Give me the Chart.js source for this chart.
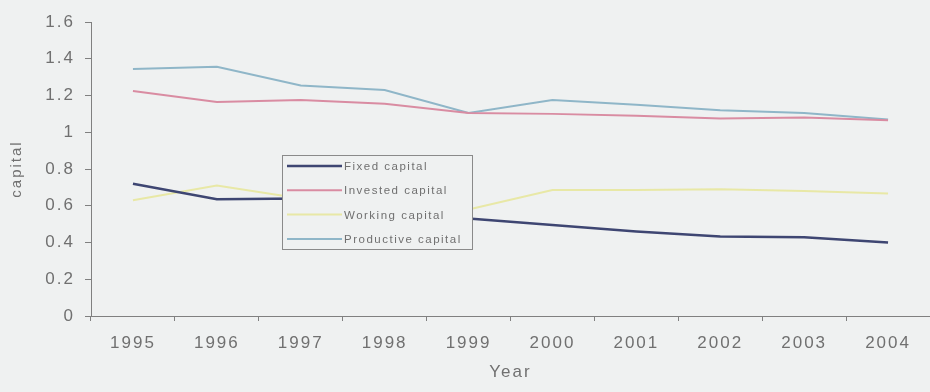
<!DOCTYPE html>
<html>
<head>
<meta charset="utf-8">
<script src="https://cdn.jsdelivr.net/npm/chart.js"></script>
<style>
    html, body { margin: 0; padding: 0; background: #eff1f1; }
    #wrap { width: 930px; height: 392px; position: relative; }
</style>
</head>
<body>
<div id="wrap"><canvas id="capitalChart"></canvas></div>
<script>
// Series data
const years = ['1995', '1996', '1997', '1998', '1999', '2000', '2001', '2002', '2003', '2004'];
const fixedCapital = [0.72, 0.635, 0.64, 0.58, 0.53, 0.495, 0.46, 0.432, 0.428, 0.40];
const investedCapital = [1.225, 1.165, 1.175, 1.155, 1.105, 1.10, 1.09, 1.075, 1.08, 1.065];
const workingCapital = [0.63, 0.71, 0.64, 0.57, 0.58, 0.686, 0.686, 0.69, 0.68, 0.667];
const productiveCapital = [1.344, 1.357, 1.255, 1.23, 1.105, 1.175, 1.15, 1.12, 1.105, 1.07];
const yTicks = [0, 0.2, 0.4, 0.6, 0.8, 1, 1.2, 1.4, 1.6];

const textColor = '#707070';
const axisColor = '#808080';

// boxed legend sitting inside the plot
const insideLegend = {
    id: 'insideLegend',
    afterDatasetsDraw(chart) {
        const c = chart.ctx;
        const box = { x: 282, y: 155, w: 190, h: 94 };
        c.save();
        c.fillStyle = '#eff1f1';
        c.fillRect(box.x, box.y, box.w, box.h);
        c.strokeStyle = '#8a8a8a';
        c.lineWidth = 1;
        c.strokeRect(box.x + 0.5, box.y + 0.5, box.w, box.h);
        c.font = '11.5px "Liberation Sans", Arial, sans-serif';
        c.letterSpacing = '1.5px';
        c.textBaseline = 'middle';
        chart.data.datasets.forEach((ds, i) => {
            const y = box.y + 11 + i * 24.3;
            c.strokeStyle = ds.borderColor;
            c.lineWidth = ds.borderWidth;
            c.beginPath();
            c.moveTo(box.x + 5, y);
            c.lineTo(box.x + 60, y);
            c.stroke();
            c.fillStyle = textColor;
            c.fillText(ds.label, box.x + 62, y + 1);
        });
        c.restore();
    }
};

// wider tracking for axis text
const tracking = {
    id: 'tracking',
    beforeLayout(chart) { chart.ctx.letterSpacing = '2px'; },
    beforeDraw(chart) { chart.ctx.letterSpacing = '2px'; }
};

new Chart(document.getElementById('capitalChart'), {
    type: 'line',
    data: {
        labels: years,
        datasets: [
            { label: 'Fixed capital', data: fixedCapital, borderColor: '#3e4672', borderWidth: 2.5 },
            { label: 'Invested capital', data: investedCapital, borderColor: '#d98ca2', borderWidth: 2 },
            { label: 'Working capital', data: workingCapital, borderColor: '#e8e8a6', borderWidth: 2 },
            { label: 'Productive capital', data: productiveCapital, borderColor: '#8fb6c8', borderWidth: 2 }
        ].map(d => Object.assign(d, { pointRadius: 0, tension: 0, fill: false }))
    },
    options: {
        responsive: true,
        maintainAspectRatio: false,
        animation: false,
        events: [],
        layout: { padding: { top: 22, right: 0, bottom: 5, left: 0 } },
        plugins: { legend: { display: false }, tooltip: { enabled: false } },
        scales: {
            x: {
                offset: true,
                grid: { offset: true, drawOnChartArea: false, tickLength: 5, color: axisColor },
                border: { color: axisColor, width: 1 },
                ticks: { color: textColor, padding: 12, maxRotation: 0, font: { family: '"Liberation Sans", Arial', size: 17 } },
                title: { display: true, text: 'Year', color: textColor, padding: { top: 2, bottom: 4 },
                         font: { family: '"Liberation Sans", Arial', size: 17 } },
                afterFit(scale) { scale.height = 71; }
            },
            y: {
                min: 0,
                max: 1.6,
                afterBuildTicks(scale) { scale.ticks = yTicks.map(v => ({ value: v })); },
                grid: { drawOnChartArea: false, tickLength: 6, color: axisColor },
                border: { color: axisColor, width: 1 },
                ticks: { color: textColor, padding: 10, callback: v => String(+v.toFixed(1)),
                         font: { family: '"Liberation Sans", Arial', size: 17 } },
                title: { display: true, text: 'capital', color: textColor, padding: { top: 8, bottom: 0 },
                         font: { family: '"Liberation Sans", Arial', size: 15 } },
                afterFit(scale) { scale.width = 91; }
            }
        }
    },
    plugins: [tracking, insideLegend]
});
</script>
</body>
</html>
